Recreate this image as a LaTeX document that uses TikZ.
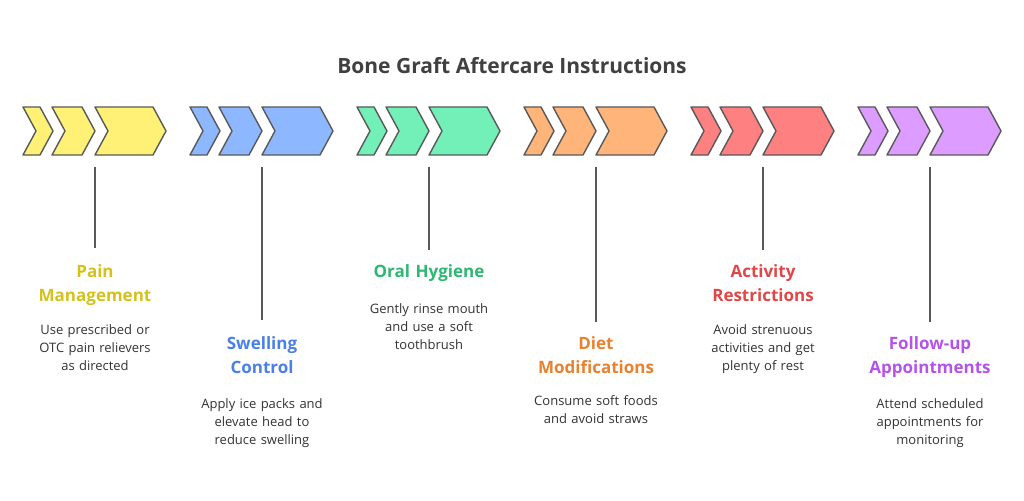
\documentclass[tikz,border=0pt]{standalone}
\usepackage{fontspec}
\setmainfont{Open Sans}
\begin{document}
\begin{tikzpicture}[x=1pt,y=-1pt,
  chev/.style={draw=black!65,line width=1.4pt,line join=round},
  stem/.style={draw=black!65,line width=1.4pt},
  head/.style={font=\fontsize{17}{24}\selectfont\bfseries,align=center,text width=150pt},
  desc/.style={font=\fontsize{13}{18}\selectfont,align=center,text width=150pt,text=black!80}]
\useasboundingbox (0,0) rectangle (1024,500);
\fill[white] (0,0) rectangle (1024,500);
\node[font=\fontsize{21}{26}\selectfont\bfseries,text=black!75] (title) at (512,66) {Bone Graft Aftercare Instructions};
\definecolor{c1}{HTML}{FFF176}\definecolor{t1}{HTML}{D4C21C}
\definecolor{c2}{HTML}{8DB8FF}\definecolor{t2}{HTML}{4A80E8}
\definecolor{c3}{HTML}{72F0B8}\definecolor{t3}{HTML}{2EB872}
\definecolor{c4}{HTML}{FFB47A}\definecolor{t4}{HTML}{E8822E}
\definecolor{c5}{HTML}{FF8080}\definecolor{t5}{HTML}{E04848}
\definecolor{c6}{HTML}{DD9CFF}\definecolor{t6}{HTML}{B553E8}
\foreach \i in {1,...,6}{
  \pgfmathsetmacro{\gx}{23+167*(\i-1)}
  \foreach \o/\w in {0/17,29/30,72/58}{
    \pgfmathsetmacro{\a}{\gx+\o}
    \draw[chev,fill=c\i] (\a,107)--++(\w,0)--++(13,24)--++(-13,24)--++(-\w,0)--++(13,-24)--cycle;
  }
}
% stems
\foreach \i/\e in {1/248,2/320,3/250,4/322,5/250,6/322}{
  \pgfmathsetmacro{\lx}{95+167*(\i-1)}
  \coordinate (s\i) at (\lx,167);
  \coordinate (e\i) at (\lx,\e);
  \draw[stem] (s\i)--(e\i);
}
\node[head,text=t1,anchor=north] (h1) at (95,261) {Pain\\Management};
\node[desc,anchor=north] (d1) at (95,321) {Use prescribed or\\OTC pain relievers\\as directed};
\node[head,text=t2,anchor=north] (h2) at (262,333) {Swelling\\Control};
\node[desc,anchor=north] (d2) at (262,395) {Apply ice packs and\\elevate head to\\reduce swelling};
\node[head,text=t3,anchor=north] (h3) at (429,261) {Oral Hygiene};
\node[desc,anchor=north] (d3) at (429,300) {Gently rinse mouth\\and use a soft\\toothbrush};
\node[head,text=t4,anchor=north] (h4) at (596,333) {Diet\\Modifications};
\node[desc,anchor=north] (d4) at (596,392) {Consume soft foods\\and avoid straws};
\node[head,text=t5,anchor=north] (h5) at (763,261) {Activity\\Restrictions};
\node[desc,anchor=north] (d5) at (763,321) {Avoid strenuous\\activities and get\\plenty of rest};
\node[head,text=t6,anchor=north] (h6) at (930,333) {Follow-up\\Appointments};
\node[desc,anchor=north] (d6) at (930,395) {Attend scheduled\\appointments for\\monitoring};
\end{tikzpicture}
\end{document}
